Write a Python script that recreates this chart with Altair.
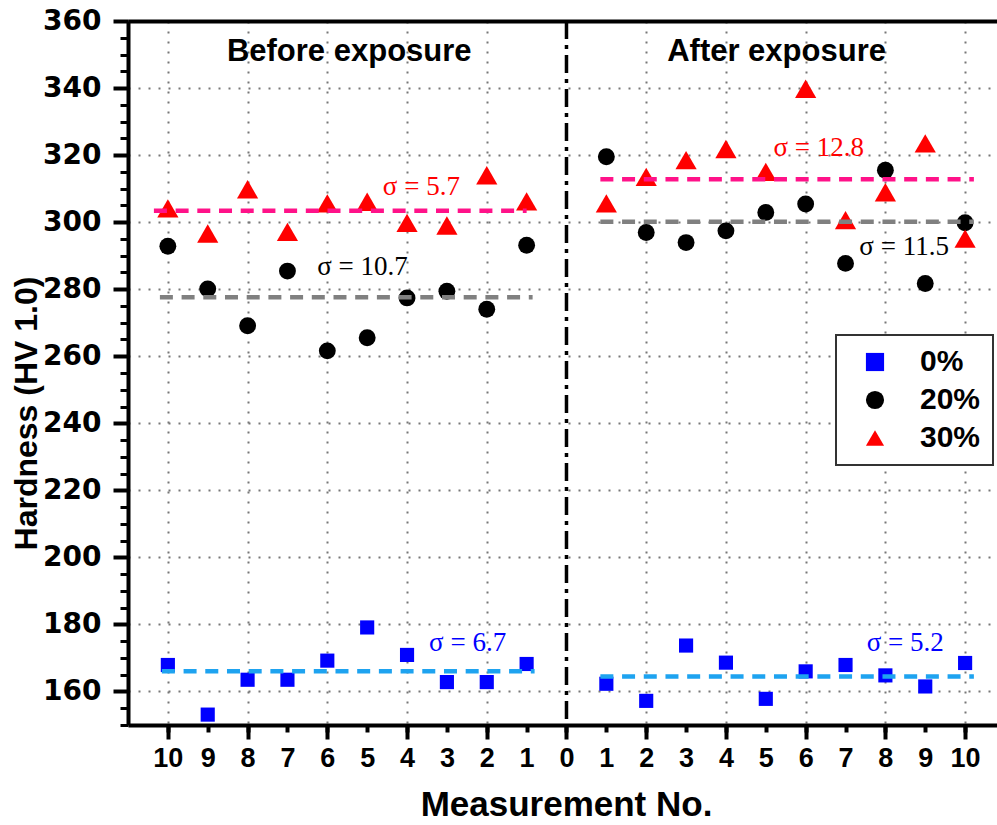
import altair as alt
import pandas as pd

# ---------------- data ----------------
measure_no = [1, 2, 3, 4, 5, 6, 7, 8, 9, 10]
groups = ["0%", "20%", "30%"]
marker_sizes = [200, 285, 450]

before_0 = [168.2, 162.8, 162.8, 170.9, 179.1, 169.2, 163.5, 163.5, 153.1, 167.9]
before_20 = [293.1, 274.0, 279.4, 277.4, 265.5, 261.6, 285.4, 269.1, 280.1, 292.8]
before_30 = [306.2, 314.0, 299.0, 299.8, 306.1, 305.6, 297.1, 309.8, 296.6, 304.1]

after_0 = [162.3, 157.2, 173.7, 168.6, 157.8, 166.0, 167.9, 164.8, 161.5, 168.5]
after_20 = [319.5, 296.9, 293.9, 297.4, 302.9, 305.4, 287.7, 315.5, 281.7, 299.8]
after_30 = [305.6, 313.5, 318.5, 321.8, 315.0, 339.8, 300.6, 308.9, 323.5, 295.1]

# mean lines (start, end in axis units; before exposure runs on negative side)
mean_series = ["b0", "b20", "b30", "a0", "a20", "a30"]
mean_values = [166.0, 277.6, 303.4, 164.5, 300.1, 312.8]
mean_start = [-10.15, -10.2, -10.35, 0.85, 0.85, 0.85]
mean_end = [-0.8, -0.85, -1.0, 10.22, 10.22, 10.22]
mean_colors = ["#1ea3f0", "#808080", "#ff1289", "#1ea3f0", "#808080", "#ff1289"]

# sigma annotations
sigma_text = ["σ = 5.7", "σ = 10.7", "σ = 6.7", "σ = 12.8", "σ = 11.5", "σ = 5.2"]
sigma_pos = [-3.64, -5.12, -2.48, 6.33, 8.47, 8.5]
sigma_val = [310.4, 286.6, 174.5, 322.1, 292.5, 174.5]
sigma_colors = ["#ff0000", "#000000", "#0000ff", "#ff0000", "#000000", "#0000ff"]

# panel headers
header_text = ["Before exposure", "After exposure"]
header_pos = [-5.45, 5.27]
header_val = [350.7, 350.7]

divider = [0]

x_ticks_all = list(range(-10, 11))
x_ticks_major = list(range(-10, 11, 2))
x_grid = [v for v in x_ticks_major if v != 0]
y_ticks_major = list(range(160, 361, 20))
y_ticks_minor = list(range(150, 361, 5))
y_grid = list(range(160, 341, 20))

# ---------------- tables ----------------
rows = []
for g, sz, vals in zip(groups, marker_sizes, [before_0, before_20, before_30]):
    for n, v in zip(measure_no, vals):
        rows.append({"pos": -n, "value": v, "group": g, "sz": sz})
for g, sz, vals in zip(groups, marker_sizes, [after_0, after_20, after_30]):
    for n, v in zip(measure_no, vals):
        rows.append({"pos": n, "value": v, "group": g, "sz": sz})
points = pd.DataFrame(rows)

means = pd.DataFrame({"series": mean_series, "value": mean_values,
                      "start": mean_start, "end": mean_end, "col": mean_colors})
sigmas = pd.DataFrame({"text": sigma_text, "pos": sigma_pos,
                       "value": sigma_val, "col": sigma_colors})
headers = pd.DataFrame({"text": header_text, "pos": header_pos, "value": header_val})
div_df = pd.DataFrame({"pos": divider})

xs = alt.Scale(domain=[-11, 10.8], nice=False, zero=False)
ys = alt.Scale(domain=[150, 360], nice=False, zero=False)

SANS = "Liberation Sans"

legend = alt.Legend(
    orient="none", legendX=708, legendY=314, title=None,
    labelFont=SANS, labelFontSize=30, labelFontWeight="bold", labelColor="black",
    strokeColor="#333333", fillColor="white", padding=12, rowPadding=8,
    symbolOffset=12, labelOffset=30, symbolStrokeWidth=0, symbolSize=330,
)

# main points with labelled axes
pts = alt.Chart(points).mark_point(filled=True, opacity=1, strokeWidth=0).encode(
    x=alt.X("pos:Q", scale=xs, axis=alt.Axis(
        orient="bottom", values=x_ticks_all, labelExpr="abs(datum.value)",
        tickSize=7, tickWidth=4, tickColor="black",
        labelFont=SANS, labelFontSize=27, labelFontWeight="bold", labelColor="black",
        labelPadding=13, labelOverlap=False, labelFlush=False,
        grid=False, domain=True, domainWidth=4, domainColor="black",
        title="Measurement No.", titleFont=SANS, titleFontSize=35,
        titleFontWeight="bold", titleColor="black", titleX=438, titleY=90,
        titleAlign="center", titleBaseline="alphabetic")),
    y=alt.Y("value:Q", scale=ys, axis=alt.Axis(
        orient="left", values=y_ticks_major, tickSize=15, tickWidth=4,
        tickColor="black", labelFont="DejaVu Sans", labelFontSize=28,
        labelFontWeight="bold", labelColor="black", labelPadding=12,
        labelOverlap=False, labelFlush=False,
        grid=False, domain=True, domainWidth=4, domainColor="black",
        title="Hardness (HV 1.0)", titleFont=SANS, titleFontSize=32,
        titleFontWeight="bold", titleColor="black", titleX=-102, titleY=392,
        titleAngle=270, titleAlign="center", titleBaseline="middle")),
    color=alt.Color("group:N", scale=alt.Scale(domain=groups, range=["#0000ff", "#000000", "#ff0000"]), legend=legend),
    shape=alt.Shape("group:N", scale=alt.Scale(domain=groups, range=["square", "circle", "triangle-up"]), legend=legend),
    size=alt.Size("sz:Q", scale=None, legend=None),
)

# mean dashed lines, carrying the minor tick axes
lines = alt.Chart(means).mark_rule(strokeWidth=4.5, strokeDash=[13, 8.7]).encode(
    x=alt.X("start:Q", scale=xs, axis=alt.Axis(
        orient="bottom", values=x_ticks_major, tickSize=14, tickWidth=4,
        tickColor="black", labels=False, domain=False, grid=False, title=None)),
    x2="end:Q",
    y=alt.Y("value:Q", scale=ys, axis=alt.Axis(
        orient="left", values=y_ticks_minor, tickSize=8, tickWidth=3,
        tickColor="black", labels=False, domain=False, grid=False, title=None)),
    color=alt.Color("col:N", scale=None),
)

# sigma annotations, carrying grid axes
notes = alt.Chart(sigmas).mark_text(font="Liberation Serif", fontSize=27,
                                    align="center", baseline="middle").encode(
    x=alt.X("pos:Q", scale=xs, axis=alt.Axis(
        orient="bottom", values=x_grid, ticks=False, labels=False, domain=False,
        grid=True, gridDash=[2, 8], gridColor="#777777", gridWidth=2, title=None)),
    y=alt.Y("value:Q", scale=ys, axis=alt.Axis(
        orient="left", values=y_grid, ticks=False, labels=False, domain=False,
        grid=True, gridDash=[2, 8], gridColor="#777777", gridWidth=2, title=None)),
    text="text:N",
    color=alt.Color("col:N", scale=None),
)

# panel headers, carrying the top frame line
heads = alt.Chart(headers).mark_text(font=SANS, fontSize=31, fontWeight="bold",
                                     align="center", baseline="middle", color="black").encode(
    x=alt.X("pos:Q", scale=xs, axis=alt.Axis(
        orient="top", ticks=False, labels=False, domain=True, domainWidth=4,
        domainColor="black", grid=False, title=None)),
    y=alt.Y("value:Q", scale=ys, axis=None),
    text="text:N",
)

div = alt.Chart(div_df).mark_rule(color="black", strokeWidth=3.5,
                                  strokeDash=[18, 6, 4, 6]).encode(
    x=alt.X("pos:Q", scale=xs, axis=None),
)

chart = alt.layer(notes, pts, lines, div, heads).resolve_axis(
    x="independent", y="independent"
).properties(
    width=869, height=704, autosize="none",
    padding={"left": 128, "top": 21, "right": 0, "bottom": 100},
    background="white",
).configure_view(stroke=None).configure_legend(strokeWidth=2)

chart.save("out.html", embed_options={"renderer": "svg", "actions": False})
